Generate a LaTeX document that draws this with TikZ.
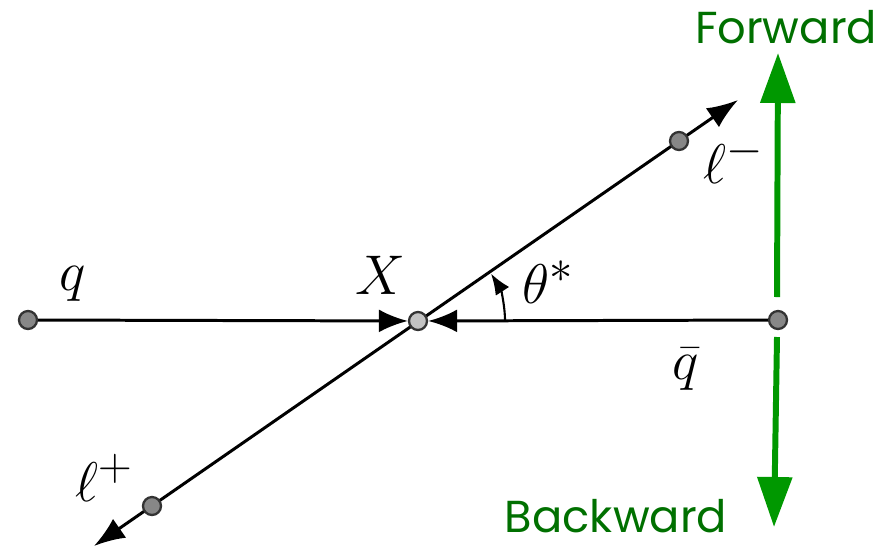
\documentclass[tikz,border=0pt]{standalone}
\usepackage{amsmath,amssymb}
\usepackage{graphicx}
\usepackage{fontspec}
\newfontfamily\dirfont{Poppins}
\usetikzlibrary{arrows.meta}
\definecolor{fwdgreen}{RGB}{0,152,0}
\definecolor{txtgreen}{RGB}{0,112,0}
\definecolor{dotgray}{RGB}{135,135,135}
\definecolor{vtxgray}{RGB}{195,195,195}
\newcommand{\biglab}[1]{\scalebox{1.28}{\fontsize{24.88}{30}\selectfont$#1$}}

\begin{document}
\begin{tikzpicture}[x=0.02cm,y=-0.02cm,
    dot/.style={circle,draw=black!80,fill=dotgray,line width=1.3pt,inner sep=0pt,minimum size=0.36cm},
    leg/.style={line width=1.7pt},
    tip/.style={-{Latex[length=0.58cm,width=0.46cm]}},
    dirarrow/.style={fwdgreen,line width=3.4pt,-{Triangle[length=1cm,width=0.68cm]}},
    lab/.style={inner sep=1pt},
    dirlab/.style={txtgreen,font=\dirfont\fontsize{25.5}{30}\selectfont,inner sep=0pt}]
    \useasboundingbox (0,0) rectangle (895,548);
    \coordinate (lptip) at (94,546);
    \coordinate (lmtip) at (738,100);
    \draw[leg,{Latex[length=0.62cm,width=0.46cm]}-{Latex[length=0.62cm,width=0.46cm]}] (lptip) -- (lmtip);
    \node[dot] (q) at (28,320) {};
    \node[dot,fill=vtxgray] (X) at (418,321) {};
    \node[dot] (qb) at (778,320) {};
    \node[dot] (lm) at (679,141) {};
    \node[dot] (lp) at (152,506) {};
    \draw[leg,tip] (q) -- (X);
    \draw[leg,tip] (qb) -- (X);
    \draw[line width=1.2pt,-{Latex[length=0.42cm,width=0.32cm]}] ([shift={(0:87)}]X.center) arc[start angle=0,end angle=-33,radius=87];
    \node[lab] (qlab) at (73,284) {\biglab{q}};
    \node[lab] (Xlab) at (380,275) {\biglab{X}};
    \node[lab] (thlab) at (548,282) {\biglab{\theta^*}};
    \node[lab] (lmlab) at (734,160) {\biglab{\ell^-}};
    \node[lab] (qblab) at (686,369) {\biglab{\bar{q}}};
    \node[lab] (lplab) at (104,478) {\biglab{\ell^+}};
    \node[dirlab,anchor=base] (fwd) at (786,43) {Forward};
    \node[dirlab,anchor=base] (bwd) at (616,532) {Backward};
    \coordinate (fwdfoot) at (777,297);
    \coordinate (fwdtip) at (778,53);
    \coordinate (bwdtop) at (777,337);
    \coordinate (bwdtip) at (774,527);
    \draw[dirarrow] (fwdfoot) -- (fwdtip);
    \draw[dirarrow] (bwdtop) -- (bwdtip);
\end{tikzpicture}
\end{document}
